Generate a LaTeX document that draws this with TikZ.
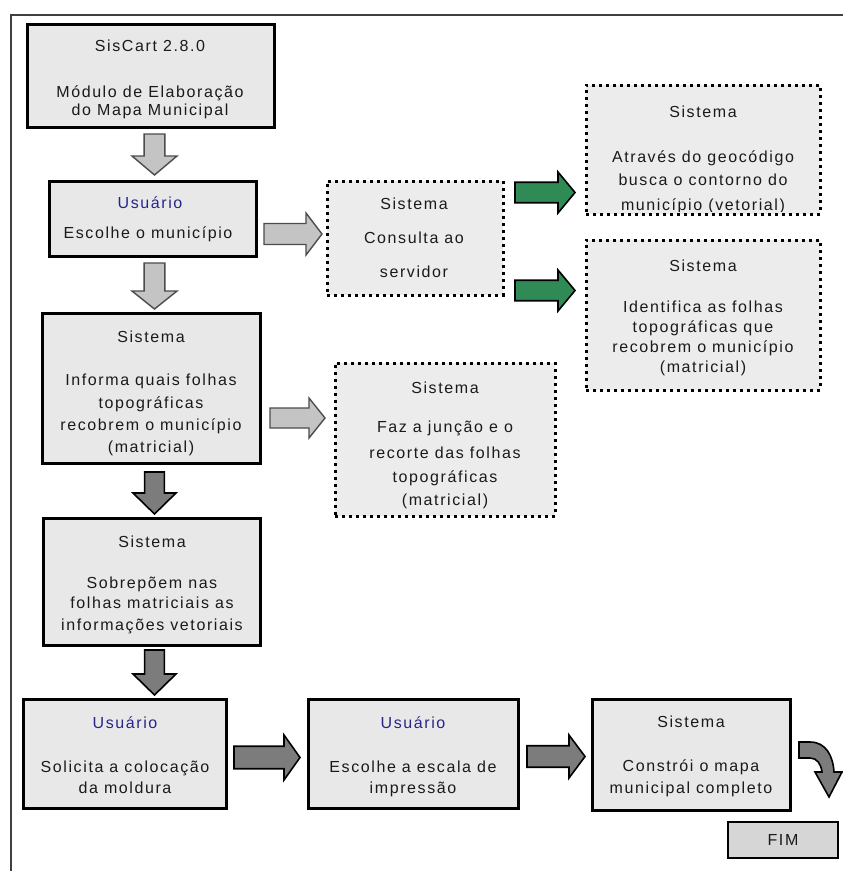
\documentclass[tikz,border=0pt]{standalone}
\usepackage{fontspec}
\setmainfont{Liberation Sans}[LetterSpace=10]
\usetikzlibrary{calc}
\definecolor{boxfill}{HTML}{E8E8E8}
\definecolor{dotfill}{HTML}{ECECEC}
\definecolor{fimfill}{HTML}{D6D6D6}
\definecolor{txtc}{HTML}{1A1A1A}
\definecolor{usrblue}{HTML}{26268A}
\definecolor{lightarr}{HTML}{C4C4C4}
\definecolor{darkarr}{HTML}{7C7C7C}
\definecolor{greenarr}{HTML}{2F8A55}
\tikzset{
  solidbox/.style={draw=black, line width=3pt, fill=boxfill, inner sep=0pt},
  dotbox/.style={draw=black, line width=3pt, dash pattern=on 3pt off 4pt, fill=dotfill, inner sep=0pt},
  fimbox/.style={draw=black, line width=2.5pt, fill=fimfill, inner sep=0pt},
  txt/.style={font=\fontsize{16}{19}\selectfont, text=txtc, inner sep=0pt},
  usr/.style={txt, text=usrblue},
  larrow/.style={draw=black!70, line width=1.4pt, fill=lightarr},
  darrow/.style={draw=black, line width=1.6pt, fill=darkarr},
  garrow/.style={draw=black, line width=1.6pt, fill=greenarr},
}
\newcommand\BOX[6]{\node[#1, minimum width={(#5-#3)*1pt}, minimum height={(#6-#4)*1pt}] (#2) at ({(#3+#5)/2},{(#4+#6)/2}) {};}
\newcommand\TL[5][txt]{\node[#1, anchor=base] (#2) at (#3,{#4+5.5}) {#5};}
\newcommand\RArr[6]{\draw[#1] (#2,{#3+0.25*(#5-#3)}) -- ({#4-#6},{#3+0.25*(#5-#3)}) -- ({#4-#6},#3) -- (#4,{(#3+#5)/2}) -- ({#4-#6},#5) -- ({#4-#6},{#5-0.25*(#5-#3)}) -- (#2,{#5-0.25*(#5-#3)}) -- cycle;}
\newcommand\DArr[6]{\draw[#1] ({#2+0.27*(#4-#2)},#3) -- ({#4-0.27*(#4-#2)},#3) -- ({#4-0.27*(#4-#2)},{#5-#6}) -- (#4,{#5-#6}) -- ({(#2+#4)/2},#5) -- (#2,{#5-#6}) -- ({#2+0.27*(#4-#2)},{#5-#6}) -- cycle;}
\begin{document}
\begin{tikzpicture}[x=1pt,y=-1pt]
\useasboundingbox[fill=white] (0,0) rectangle (843,871);
\draw[line width=2pt, black!75] (11,871) -- (11,15) -- (843,15);

\BOX{solidbox}{b1}{27}{24}{274}{127}
\BOX{solidbox}{b2}{49}{181}{256}{256}
\BOX{dotbox}{c1}{327}{181}{503}{295}
\BOX{dotbox}{d1}{586}{85}{820}{214}
\BOX{dotbox}{d2}{586}{240}{820}{390}
\BOX{solidbox}{b3}{42}{313}{260}{463}
\BOX{dotbox}{c2}{335}{363}{555}{516}
\BOX{solidbox}{b4}{43}{518}{260}{645}
\BOX{solidbox}{b5}{23}{699}{226}{808}
\BOX{solidbox}{b6}{308}{699}{518}{808}
\BOX{solidbox}{b7}{592}{699}{790}{810}
\BOX{fimbox}{fim}{728}{822}{838}{858}

\TL{t1a}{150}{46}{SisCart 2.8.0}
\TL{t1b}{150}{92}{Módulo de Elaboração}
\TL{t1c}{150}{110}{do Mapa Municipal}
\TL[usr]{t2a}{150}{203}{Usuário}
\TL{t2b}{148}{233}{Escolhe o município}
\TL{tc1a}{414}{204}{Sistema}
\TL{tc1b}{414}{238}{Consulta ao}
\TL{tc1c}{414}{272}{servidor}
\TL{td1a}{703}{112}{Sistema}
\TL{td1b}{703}{157}{Através do geocódigo}
\TL{td1c}{703}{180}{busca o contorno do}
\begin{scope}
\clip (586,85) rectangle (820,211);
\TL{td1d}{703}{205}{município (vetorial)}
\end{scope}
\TL{td2a}{703}{266}{Sistema}
\TL{td2b}{703}{307}{Identifica as folhas}
\TL{td2c}{703}{327}{topográficas que}
\TL{td2d}{703}{347}{recobrem o município}
\TL{td2e}{703}{367}{(matricial)}
\TL{t3a}{151}{337}{Sistema}
\TL{t3b}{151}{380}{Informa quais folhas}
\TL{t3c}{151}{403}{topográficas}
\TL{t3d}{151}{425}{recobrem o município}
\TL{t3e}{151}{447}{(matricial)}
\TL{tc2a}{445}{388}{Sistema}
\TL{tc2b}{445}{427}{Faz a junção e o}
\TL{tc2c}{445}{453}{recorte das folhas}
\TL{tc2d}{445}{477}{topográficas}
\TL{tc2e}{445}{500}{(matricial)}
\TL{t4a}{152}{542}{Sistema}
\TL{t4b}{152}{583}{Sobrepõem nas}
\TL{t4c}{152}{603}{folhas matriciais as}
\TL{t4d}{152}{625}{informações vetoriais}
\TL[usr]{t5a}{125}{723}{Usuário}
\TL{t5b}{125}{767}{Solicita a colocação}
\TL{t5c}{125}{788}{da moldura}
\TL[usr]{t6a}{413}{723}{Usuário}
\TL{t6b}{413}{767}{Escolhe a escala de}
\TL{t6c}{413}{788}{impressão}
\TL{t7a}{691}{722}{Sistema}
\TL{t7b}{691}{766}{Constrói o mapa}
\TL{t7c}{691}{788}{municipal completo}
\TL{tfim}{783}{840}{FIM}

\DArr{larrow}{132}{134}{177}{175}{19}
\DArr{larrow}{132}{263}{177}{309}{18}
\DArr{darrow}{133}{472}{176}{514}{21}
\DArr{darrow}{133}{650}{176}{695}{21}
\RArr{larrow}{264}{213}{322}{255}{16}
\RArr{larrow}{270}{398}{325}{438}{16}
\RArr{garrow}{515}{172}{575}{213}{17}
\RArr{garrow}{515}{270}{575}{311}{17}
\RArr{darrow}{234}{735}{300}{780}{16}
\RArr{darrow}{527}{735}{585}{778}{16}
\draw[darrow] (799,742) -- (810,742) .. controls (826,742) and (833,756) .. (834,772)
  -- (842,772) -- (829,797) -- (815,772) -- (822,772)
  .. controls (821,764) and (817,758) .. (810,758) -- (799,758) -- cycle;
\end{tikzpicture}
\end{document}
